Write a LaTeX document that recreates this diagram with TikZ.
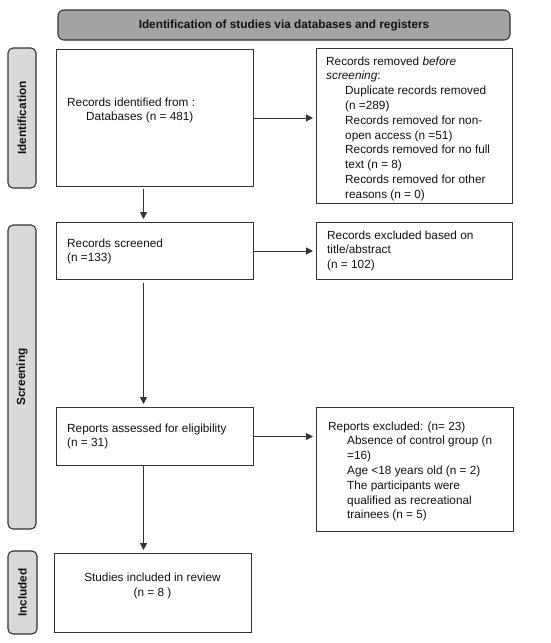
\documentclass[tikz,border=0pt]{standalone}
\usepackage{fontspec}
\setmainfont{Liberation Sans}
\usetikzlibrary{arrows.meta}
\definecolor{edge}{HTML}{333333}
\definecolor{banner}{HTML}{A3A3A3}
\definecolor{side}{HTML}{D9D9D9}
\definecolor{ink}{HTML}{111111}
\begin{document}
\begin{tikzpicture}[x=1pt,y=-1pt,
  box/.style={draw=edge, line width=1pt, anchor=north west, inner sep=0pt, fill=white},
  sidelab/.style={draw=edge, line width=1.1pt, fill=side, rounded corners=5pt, inner sep=0pt, rotate=90, text=ink, font=\fontsize{11.8}{14}\selectfont\bfseries},
  headbox/.style={draw=edge, line width=1.1pt, fill=banner, rounded corners=6pt, inner sep=0pt, text=ink, font=\fontsize{11.8}{14}\selectfont\bfseries},
  txt/.style={anchor=north west, inner sep=0pt, align=left, text=ink, font=\fontsize{11.8}{14.8}\selectfont},
  ctxt/.style={anchor=north, inner sep=0pt, align=center, text=ink, font=\fontsize{11.8}{15.5}\selectfont},
  arr/.style={draw=edge, line width=1pt, -{Triangle[width=7pt,length=7pt]}, shorten >=3pt}
]
\useasboundingbox (0,0) rectangle (550,643);

% banner and side labels
\node[headbox, minimum width=452pt, minimum height=30pt] (head) at (284,25) {Identification of studies via databases and registers};
\node[sidelab, minimum width=140pt, minimum height=28pt] (sid) at (22,118) {Identification};
\node[sidelab, minimum width=304pt, minimum height=28pt] (sscr) at (22,377) {Screening};
\node[sidelab, minimum width=83pt, minimum height=29pt] (sinc) at (22.5,592.5) {Included};

% boxes
\node[box, minimum width=197pt, minimum height=137pt] (ident) at (56,49) {};
\node[box, minimum width=196pt, minimum height=155pt] (remov) at (316,48) {};
\node[box, minimum width=197pt, minimum height=57pt] (scr) at (56,222) {};
\node[box, minimum width=196pt, minimum height=57pt] (excA) at (316,222) {};
\node[box, minimum width=197pt, minimum height=58pt] (asse) at (56,407) {};
\node[box, minimum width=197pt, minimum height=124pt] (excB) at (316,407) {};
\node[box, minimum width=197pt, minimum height=79pt] (incl) at (54,553) {};

% texts
\node[txt] (tident) at (67,97.4) {Records identified from :\\\hspace*{19pt}Databases (n = 481)};
\node[txt] (tremov) at (326,56.4) {Records removed \textit{before}\\
\textit{screening}:\\
\hspace*{19pt}Duplicate records removed\\
\hspace*{19pt}(n =289)\\
\hspace*{19pt}Records removed for non-\\
\hspace*{19pt}open access (n =51)\\
\hspace*{19pt}Records removed for no full\\
\hspace*{19pt}text (n = 8)\\
\hspace*{19pt}Records removed for other\\
\hspace*{19pt}reasons (n = 0)};
\node[txt] (tscr) at (67,238.4) {Records screened\\(n =133)};
\node[txt] (texcA) at (327,230.4) {Records excluded based on\\title/abstract\\(n = 102)};
\node[txt] (tasse) at (67,423.4) {Reports assessed for eligibility\\(n = 31)};
\node[txt] (texcB) at (328,421.4) {Reports excluded: (n= 23)\\
\hspace*{19pt}Absence of control group (n\\
\hspace*{19pt}=16)\\
\hspace*{19pt}Age <18 years old (n = 2)\\
\hspace*{19pt}The participants were\\
\hspace*{19pt}qualified as recreational\\
\hspace*{19pt}trainees (n = 5)};
\node[ctxt] (tincl) at (152.5,572.4) {Studies included in review\\(n = 8 )};

% connectors
\coordinate (vx) at (143.5,0);
\draw[arr] (ident.east) -- (remov.west |- ident.east);
\draw[arr] (scr.east) -- (excA.west |- scr.east);
\draw[arr] (asse.east) -- (excB.west |- asse.east);
\draw[arr, shorten <=2pt] (vx |- ident.south) -- (vx |- scr.north);
\draw[arr, shorten <=3pt] (vx |- scr.south) -- (vx |- asse.north);
\draw[arr] (vx |- asse.south) -- (vx |- incl.north);
\end{tikzpicture}
\end{document}
